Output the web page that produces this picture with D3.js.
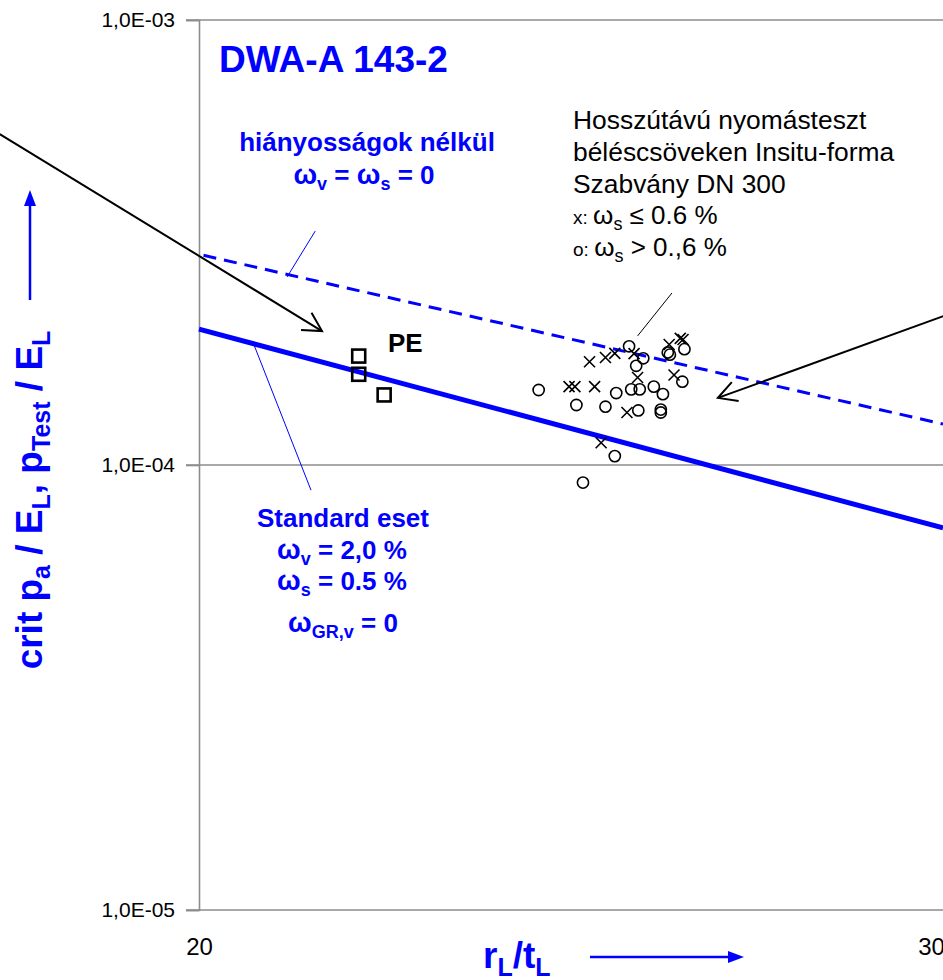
<!DOCTYPE html>
<html>
<head>
<meta charset="utf-8">
<script src="https://cdn.jsdelivr.net/npm/d3@7"></script>
<style>
body { margin: 0; background: #fff; }
text { font-family: "Liberation Sans", Arial, sans-serif; }
</style>
</head>
<body>
<script>
// axis values
const xTicks = [20, 30]
const yTicks = [1e-5, 1e-4, 1e-3]
const yTickLabels = ["1,0E-05", "1,0E-04", "1,0E-03"]

// theory lines (DWA-A 143-2), running past the cropped right edge
const standardX = [20, 30.2]
const standardY = [2.02e-4, 7.22e-5]
const noDefectX = [20.05, 30.2]
const noDefectY = [2.96e-4, 1.236e-4]

// PE test points
const peX = [21.85, 21.85, 22.16]
const peY = [1.757e-4, 1.599e-4, 1.437e-4]

// long term tests, x: ws <= 0.6 %
const crossX = [24.83, 25.05, 25.18, 25.45, 24.55, 24.63, 24.90, 25.50, 25.35, 26.02, 25.95, 26.11, 26.15, 24.99]
const crossY = [1.706e-4, 1.744e-4, 1.782e-4, 1.78e-4, 1.50e-4, 1.50e-4, 1.50e-4, 1.573e-4, 1.312e-4, 1.593e-4, 1.866e-4, 1.926e-4, 1.914e-4, 1.122e-4]

// long term tests, o: ws > 0.6 %
const circleX = [24.14, 24.65, 25.05, 25.20, 25.38, 25.48, 25.58, 25.41, 25.53, 25.73, 25.86, 25.51, 25.83, 25.83, 25.93, 25.96, 26.17, 26.14, 25.18, 24.74]
const circleY = [1.474e-4, 1.364e-4, 1.352e-4, 1.451e-4, 1.848e-4, 1.671e-4, 1.737e-4, 1.479e-4, 1.479e-4, 1.50e-4, 1.443e-4, 1.326e-4, 1.332e-4, 1.312e-4, 1.79e-4, 1.77e-4, 1.821e-4, 1.539e-4, 1.047e-4, 9.13e-5]

// annotation arrows / leader lines, in data units [x1, y1, x2, y2]
const arrows = [[17.91, 5.54e-4, 21.41, 2.0e-4], [30.49, 2.23e-4, 26.66, 1.415e-4]]
const leaderBlack = [[25.99, 2.435e-4, 25.50, 1.95e-4]]
const leaderBlue = [[21.33, 3.355e-4, 21.00, 2.646e-4], [20.61, 1.88e-4, 21.28, 8.78e-5]]

const W = 943, H = 980
const blue = "#0000ff"
const gray = "#8c8c8c"

svg = d3.select("body").append("svg").attr("width", W).attr("height", H)

x = d3.scaleLog().domain([20, 30]).range([199, 931])
y = d3.scaleLog().domain([1e-5, 1e-3]).range([910, 20])

// grid lines
svg.selectAll(".grid").data(yTicks).enter().append("line")
    .attr("x1", 186).attr("x2", W)
    .attr("y1", d => y(d)).attr("y2", d => y(d))
    .attr("stroke", gray).attr("stroke-width", 1.6)

// y axis
yAxis = svg.append("g").attr("transform", "translate(199,0)")
    .call(d3.axisLeft(y).tickValues(yTicks).tickFormat((d, i) => yTickLabels[i]).tickSize(13).tickPadding(11))
yAxis.select(".domain").attr("stroke", gray).attr("stroke-width", 1.6)
yAxis.selectAll(".tick line").attr("stroke", gray).attr("stroke-width", 1.6)
yAxis.selectAll("text").attr("font-size", 21).attr("fill", "#000")
    .style("font-family", '"Liberation Sans", Arial, sans-serif')

// x axis labels
xAxis = svg.append("g").attr("transform", "translate(0,910)")
    .call(d3.axisBottom(x).tickValues(xTicks).tickFormat(d3.format("d")).tickSize(0).tickPadding(28))
xAxis.select(".domain").remove()
xAxis.selectAll("text").attr("font-size", 24).attr("fill", "#000")
    .style("font-family", '"Liberation Sans", Arial, sans-serif')

// theory lines
line = d3.line().x(d => x(d[0])).y(d => y(d[1]))
svg.append("path").datum(noDefectX.map((v, i) => [v, noDefectY[i]]))
    .attr("d", line).attr("fill", "none").attr("stroke", blue)
    .attr("stroke-width", 3).attr("stroke-dasharray", "13,8")
svg.append("path").datum(standardX.map((v, i) => [v, standardY[i]]))
    .attr("d", line).attr("fill", "none").attr("stroke", blue).attr("stroke-width", 5)

// leader lines
svg.selectAll(".lb").data(leaderBlue).enter().append("line")
    .attr("x1", d => x(d[0])).attr("y1", d => y(d[1])).attr("x2", d => x(d[2])).attr("y2", d => y(d[3]))
    .attr("stroke", blue).attr("stroke-width", 1)
svg.selectAll(".lk").data(leaderBlack).enter().append("line")
    .attr("x1", d => x(d[0])).attr("y1", d => y(d[1])).attr("x2", d => x(d[2])).attr("y2", d => y(d[3]))
    .attr("stroke", "#000").attr("stroke-width", 1)

// arrows with open heads
function head(d) {
    x1 = x(d[0]); y1 = y(d[1]); x2 = x(d[2]); y2 = y(d[3])
    a = Math.atan2(y1 - y2, x1 - x2)
    len = 21, sp = 0.5
    return "M" + (x2 + len * Math.cos(a - sp)) + "," + (y2 + len * Math.sin(a - sp)) +
        "L" + x2 + "," + y2 +
        "L" + (x2 + len * Math.cos(a + sp)) + "," + (y2 + len * Math.sin(a + sp))
}
svg.selectAll(".arr").data(arrows).enter().append("line")
    .attr("x1", d => x(d[0])).attr("y1", d => y(d[1])).attr("x2", d => x(d[2])).attr("y2", d => y(d[3]))
    .attr("stroke", "#000").attr("stroke-width", 2)
svg.selectAll(".arrh").data(arrows).enter().append("path")
    .attr("d", head).attr("fill", "none").attr("stroke", "#000").attr("stroke-width", 2)

// markers
svg.selectAll(".sq").data(peX).enter().append("rect")
    .attr("x", (d, i) => x(d) - 6.5).attr("y", (d, i) => y(peY[i]) - 6.5)
    .attr("width", 13).attr("height", 13)
    .attr("fill", "none").attr("stroke", "#000").attr("stroke-width", 2.6)
svg.selectAll(".ci").data(circleX).enter().append("circle")
    .attr("cx", d => x(d)).attr("cy", (d, i) => y(circleY[i])).attr("r", 5.6)
    .attr("fill", "none").attr("stroke", "#000").attr("stroke-width", 1.6)
svg.selectAll(".cr").data(crossX).enter().append("path")
    .attr("d", (d, i) => {
        cx = x(d); cy = y(crossY[i]); s = 5.5
        return "M" + (cx - s) + "," + (cy - s) + "L" + (cx + s) + "," + (cy + s) +
            "M" + (cx - s) + "," + (cy + s) + "L" + (cx + s) + "," + (cy - s)
    })
    .attr("fill", "none").attr("stroke", "#000").attr("stroke-width", 1.6)

// helper for text with subscripts: parts = [[text, isSub, ownSize], ...]
function richText(g, px, py, parts, size, subSize, anchor, weight, color) {
    t = g.append("text").attr("x", px).attr("y", py).attr("font-size", size)
        .attr("font-weight", weight).attr("fill", color).attr("text-anchor", anchor)
    down = false
    parts.forEach(p => {
        ts = t.append("tspan").text(p[0])
        if (p[1] && !down) { ts.attr("dy", size * 0.22).attr("font-size", subSize); down = true }
        else if (!p[1] && down) { ts.attr("dy", -size * 0.22); down = false }
        else if (p[1]) ts.attr("font-size", subSize)
        if (p[2]) ts.attr("font-size", p[2])
    })
    return t
}

// title
svg.append("text").attr("x", 219).attr("y", 72).attr("font-size", 37).attr("font-weight", "bold")
    .attr("fill", blue).text("DWA-A 143-2")

// blue annotations
richText(svg, 367, 151, [["hiányosságok nélkül"]], 26, 18, "middle", "bold", blue)
richText(svg, 364, 184, [["ω", 0, 28], ["v", 1], [" = "], ["ω", 0, 28], ["s", 1], [" = 0"]], 26, 18, "middle", "bold", blue)
richText(svg, 343, 527, [["Standard eset"]], 26, 18, "middle", "bold", blue)
richText(svg, 342, 559, [["ω", 0, 28], ["v", 1], [" = 2,0 %"]], 26, 18, "middle", "bold", blue)
richText(svg, 342, 590, [["ω", 0, 28], ["s", 1], [" = 0.5 %"]], 26, 18, "middle", "bold", blue)
richText(svg, 343, 632, [["ω", 0, 28], ["GR,v", 1], [" = 0"]], 26, 18, "middle", "bold", blue)

// PE label
svg.append("text").attr("x", 388).attr("y", 352).attr("font-size", 26).attr("font-weight", "bold")
    .attr("fill", "#000").text("PE")

// legend-like text
legendLines = ["Hosszútávú nyomásteszt", "béléscsöveken Insitu-forma", "Szabvány DN 300"]
legendLines.forEach((s, i) => {
    svg.append("text").attr("x", 573).attr("y", 129 + i * 32).attr("font-size", 26.4).attr("fill", "#000").text(s)
})
richText(svg, 573, 224, [["x: ", 0, 19], ["ω"], ["s", 1], [" ≤ 0.6 %"]], 26, 18, "start", "normal", "#000")
richText(svg, 573, 256, [["o: ", 0, 19], ["ω"], ["s", 1], [" > 0.,6 %"]], 26, 18, "start", "normal", "#000")

// y axis title with arrow
yt = svg.append("g").attr("transform", "translate(42,500) rotate(-90)")
richText(yt, 0, 0, [["crit p"], ["a", 1], [" / E"], ["L", 1], [", p"], ["Test", 1], [" / E"], ["L", 1]], 37, 25, "middle", "bold", blue)
svg.append("line").attr("x1", 30).attr("x2", 30).attr("y1", 300).attr("y2", 204)
    .attr("stroke", blue).attr("stroke-width", 2.5)
svg.append("path").attr("d", "M30,190L24,206L36,206Z").attr("fill", blue)

// x axis title with arrow
richText(svg, 483, 968, [["r"], ["L", 1], ["/t"], ["L", 1]], 37, 25, "start", "bold", blue)
svg.append("line").attr("x1", 590).attr("x2", 730).attr("y1", 957).attr("y2", 957)
    .attr("stroke", blue).attr("stroke-width", 2.5)
svg.append("path").attr("d", "M744,957L728,951L728,963Z").attr("fill", blue)
</script>
</body>
</html>
